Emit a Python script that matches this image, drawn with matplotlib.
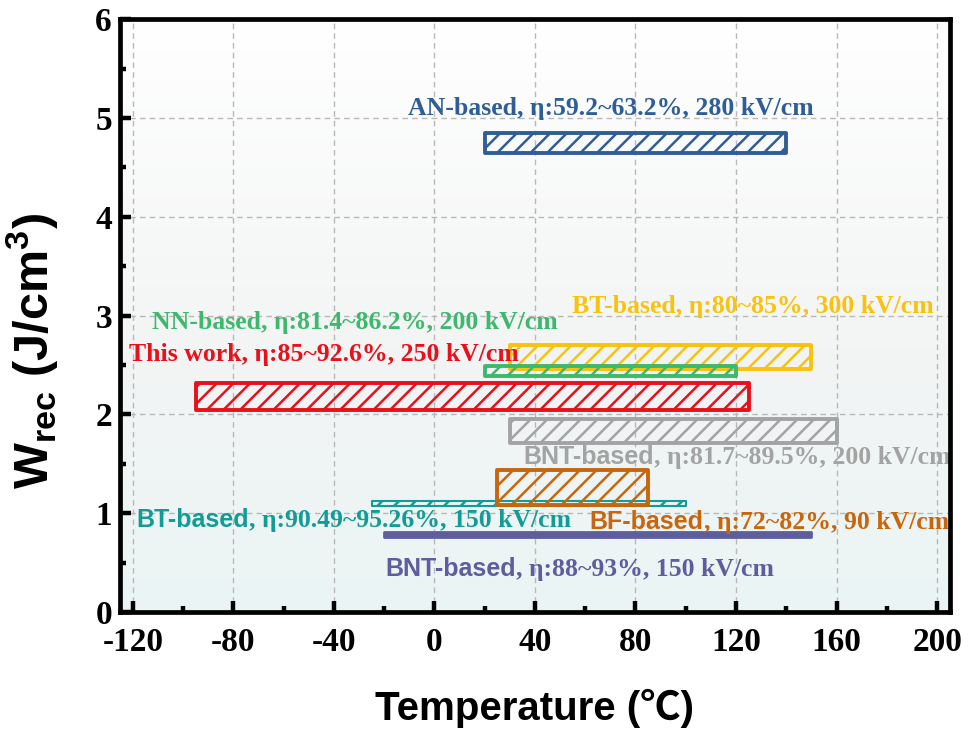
import matplotlib
matplotlib.use("Agg")
import matplotlib.pyplot as plt
import numpy as np
from matplotlib.colors import LinearSegmentedColormap
from matplotlib.ticker import MultipleLocator

plt.rcParams["mathtext.fontset"] = "custom"
plt.rcParams["mathtext.rm"] = "Liberation Sans:bold"
plt.rcParams["mathtext.bf"] = "Liberation Sans:bold"
plt.rcParams["hatch.linewidth"] = 1.8
plt.rcParams["axes.unicode_minus"] = False

# temperature ranges (C) and W_rec bands (J/cm3) of each system
names = ["AN", "BT300", "NN", "This work", "BNT200", "BT150", "BF", "BNT150"]
t_low = [20, 30, 20, -95, 30, -25, 25, -20]
t_high = [140, 150, 120, 125, 160, 100, 85, 150]
w_mid = [4.75, 2.58, 2.44, 2.18, 1.835, 1.1, 1.26, 0.78]
w_span = [0.2, 0.25, 0.1, 0.27, 0.24, 0.05, 0.35, 0.05]
colors = ["#2F5E97", "#F9C20F", "#3DB86D", "#E8101A", "#A3A3A3",
          "#119C95", "#C8660E", "#5E5E9E"]
hatches = ["//", "//", "//", "//", "//", "//", "//", None]

# annotation text: sans head + serif tail
heads = ["", "", "", "", "BNT-based", "BT-based", "BF-based", "BNT-based"]
tails = ["AN-based, η:59.2~63.2%, 280 kV/cm",
         "BT-based, η:80~85%, 300 kV/cm",
         "NN-based, η:81.4~86.2%, 200 kV/cm",
         "This work, η:85~92.6%, 250 kV/cm",
         ", η:81.7~89.5%, 200 kV/cm",
         ", η:90.49~95.26%, 150 kV/cm",
         ", η:72~82%, 90 kV/cm",
         ", η:88~93%, 150 kV/cm"]
label_x = [-10.7, 54.7, -112.5, -121.6, 35.2, -118.4, 61.8, -19.4]
label_y = [5.03, 3.03, 2.86, 2.54, 1.50, 0.86, 0.84, 0.36]

fig = plt.figure(figsize=(9.7, 7.4), dpi=100)
ax = fig.add_axes([0.124, 0.173, 0.855, 0.801])
ax.set_xlim(-125, 205)
ax.set_ylim(0, 6)

# soft vertical background gradient
bg = LinearSegmentedColormap.from_list("bg", ["#EBF4F4", "#F4F5F5", "#FFFFFF"])
grad = np.linspace(0, 1, 256).reshape(-1, 1)
ax.imshow(grad, cmap=bg, aspect="auto", origin="lower",
          extent=(-125, 205, 0, 6), zorder=0)

ax.grid(True, which="major", linestyle=(0, (4, 3)), color="#B8B8B8",
        linewidth=1.0, zorder=1)

for i in range(len(names)):
    if hatches[i] is None:
        ax.barh(w_mid[i], t_high[i] - t_low[i], left=t_low[i], height=w_span[i],
                color=colors[i], edgecolor=colors[i], linewidth=2.0,
                joinstyle="round", zorder=3 + i)
    else:
        lw = 1.5 if w_span[i] < 0.08 else 2.8
        ax.barh(w_mid[i], t_high[i] - t_low[i], left=t_low[i], height=w_span[i],
                facecolor="none", edgecolor=colors[i], hatch=hatches[i],
                linewidth=lw, joinstyle="round", zorder=3 + i)

for i in range(len(names)):
    if heads[i]:
        t = ax.text(label_x[i], label_y[i], heads[i], color=colors[i],
                    family="Liberation Sans", fontweight="bold", fontsize=18,
                    va="baseline", ha="left", zorder=20)
        ax.annotate(tails[i], xy=(1, 0), xycoords=t, va="bottom", ha="left",
                    color=colors[i], family="Liberation Serif",
                    fontweight="bold", fontsize=18.5, zorder=20)
    else:
        ax.text(label_x[i], label_y[i], tails[i], color=colors[i],
                family="Liberation Serif", fontweight="bold", fontsize=18.5,
                va="baseline", ha="left", zorder=20)

ax.xaxis.set_major_locator(MultipleLocator(40))
ax.xaxis.set_minor_locator(MultipleLocator(20))
ax.yaxis.set_major_locator(MultipleLocator(1))
ax.yaxis.set_minor_locator(MultipleLocator(0.5))
ax.tick_params(which="both", direction="in", top=False, right=False)
ax.tick_params(which="major", length=8, width=3.2)
ax.tick_params(which="minor", length=4, width=3.2)
ax.tick_params(axis="x", which="major", pad=11)
ax.tick_params(axis="y", which="major", pad=6)
for lab in ax.get_xticklabels() + ax.get_yticklabels():
    lab.set_family("Liberation Serif")
    lab.set_fontweight("bold")
    lab.set_fontsize(24)
for s in ax.spines.values():
    s.set_linewidth(3.4)
    s.set_zorder(30)

ax.set_xlabel("Temperature (℃)", family=["Liberation Sans", "Noto Sans CJK SC"],
              fontweight="bold", fontsize=29, va="top")
ax.xaxis.set_label_coords(0.5, -0.13)
ax.set_ylabel(r"W$_{\mathrm{rec}}$ (J/cm$^{3}$)", family="Liberation Sans",
              fontweight="bold", fontsize=35)
ax.yaxis.set_label_coords(-0.072, 0.44)

fig.savefig("out.png", dpi=100)
